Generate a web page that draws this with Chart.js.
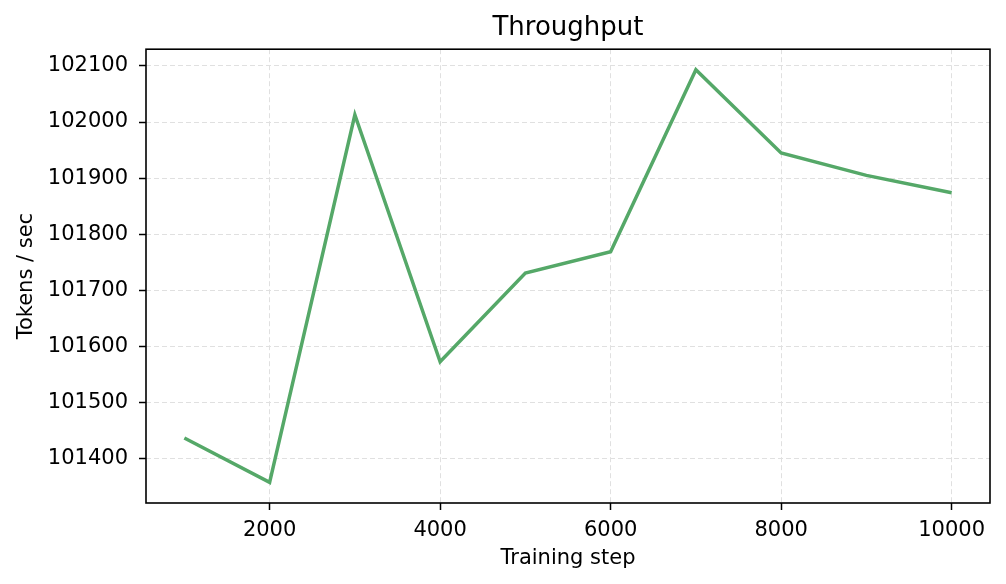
<!DOCTYPE html>
<html>
<head>
<meta charset="utf-8">
<script src="https://cdn.jsdelivr.net/npm/chart.js@4.4.1/dist/chart.umd.min.js"></script>
<style>
  html, body { margin: 0; padding: 0; background: #fff; }
  #wrap { width: 1006px; height: 584px; }
</style>
</head>
<body>
<div id="wrap"><canvas id="myChart" width="1006" height="584"></canvas></div>
<script>
const steps = [1000, 2000, 3000, 4000, 5000, 6000, 7000, 8000, 9000, 10000];
const tokensPerSec = [101437, 101358, 102013, 101573, 101731, 101769, 102093, 101945, 101905, 101874];
const xTicks = [2000, 4000, 6000, 8000, 10000];
const yTicks = [101400, 101500, 101600, 101700, 101800, 101900, 102000, 102100];

// matplotlib style 5% margins
function padRange(arr) {
  const lo = Math.min(...arr), hi = Math.max(...arr);
  const m = (hi - lo) * 0.05;
  return [lo - m, hi + m];
}
const [xMin, xMax] = padRange(steps);
const [yMin, yMax] = padRange(tokensPerSec);

const FONT = "'DejaVu Sans', sans-serif";

// draws the full box around the plot area
const frame = {
  id: 'frame',
  afterDraw(chart) {
    const { ctx, chartArea: a } = chart;
    ctx.save();
    ctx.strokeStyle = '#000';
    ctx.lineWidth = 1.6;
    ctx.strokeRect(a.left, a.top, a.right - a.left, a.bottom - a.top);
    ctx.restore();
  }
};

document.addEventListener("DOMContentLoaded", function () {
  const ctx = document.getElementById("myChart");

  new Chart(ctx, {
    type: 'line',
    data: {
      datasets: [{
        data: steps.map((s, i) => ({ x: s, y: tokensPerSec[i] })),
        borderColor: '#55a868',
        borderWidth: 3.5,
        pointRadius: 0,
        tension: 0,
        fill: false
      }]
    },
    options: {
      responsive: false,
      animation: false,
      devicePixelRatio: 1,
      layout: { padding: { left: 0, right: 16, top: 0, bottom: 0 } },
      plugins: {
        legend: { display: false },
        tooltip: { enabled: false },
        title: {
          display: true,
          fullSize: false,
          text: 'Throughput',
          color: '#000',
          font: { family: FONT, size: 26, weight: 'normal' },
          padding: { top: 13, bottom: 5 }
        }
      },
      scales: {
        x: {
          type: 'linear',
          min: xMin,
          max: xMax,
          afterBuildTicks: s => { s.ticks = xTicks.map(v => ({ value: v })); },
          afterFit: s => { s.height = 81; },
          border: { display: false, dash: [5, 3] },
          grid: {
            color: '#e0e0e0',
            lineWidth: 1,
            tickLength: 7,
            tickColor: '#000',
            tickWidth: 1.5,
            tickBorderDash: []
          },
          ticks: {
            color: '#000',
            padding: 8,
            maxRotation: 0,
            font: { family: FONT, size: 21 },
            callback: v => String(v)
          },
          title: {
            display: true,
            text: 'Training step',
            color: '#000',
            font: { family: FONT, size: 21 },
            padding: { top: 0, bottom: 13 }
          }
        },
        y: {
          type: 'linear',
          min: yMin,
          max: yMax,
          afterBuildTicks: s => { s.ticks = yTicks.map(v => ({ value: v })); },
          afterFit: s => { s.width = 146; },
          border: { display: false, dash: [5, 3] },
          grid: {
            color: '#e0e0e0',
            lineWidth: 1,
            tickLength: 7,
            tickColor: '#000',
            tickWidth: 1.5,
            tickBorderDash: []
          },
          ticks: {
            color: '#000',
            padding: 11,
            font: { family: FONT, size: 21 },
            callback: v => String(v)
          },
          title: {
            display: true,
            text: 'Tokens / sec',
            color: '#000',
            font: { family: FONT, size: 21 },
            padding: { top: 14, bottom: 0 }
          }
        }
      }
    },
    plugins: [frame]
  });
});
</script>
</body>
</html>
